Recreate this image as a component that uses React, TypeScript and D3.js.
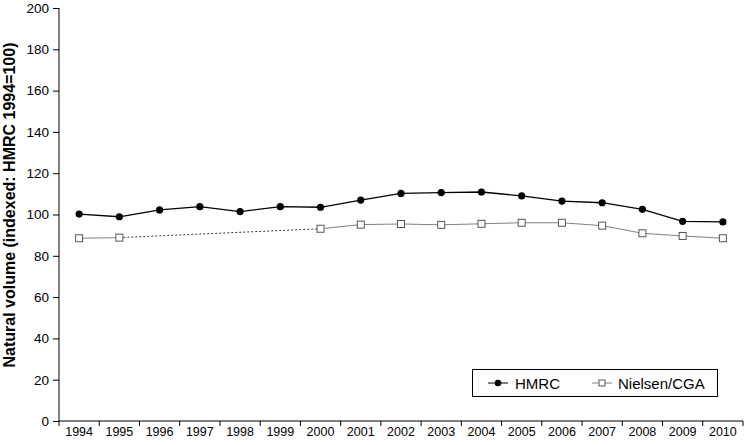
import React, { useEffect, useRef } from 'react'
import * as d3 from 'd3'

const years = ['1994', '1995', '1996', '1997', '1998', '1999', '2000', '2001', '2002',
  '2003', '2004', '2005', '2006', '2007', '2008', '2009', '2010']
const hmrc = [100.2, 98.9, 102.2, 103.8, 101.4, 103.8, 103.5, 107, 110.2, 110.6, 110.9, 109,
  106.5, 105.7, 102.5, 96.7, 96.4]
// no Nielsen/CGA figures for 1996-1999
const nielsen = [88.5, 88.8, null, null, null, null, 93.1, 95.1, 95.4, 95, 95.5, 96, 96,
  94.6, 90.9, 89.6, 88.5]
const yTicks = [0, 20, 40, 60, 80, 100, 120, 140, 160, 180, 200]

const App = () => {
  const ref = useRef<SVGSVGElement>(null)

  useEffect(() => {
    const svg = d3.select(ref.current)
    svg.selectAll('*').remove()
    const font = 'Liberation Sans, Arial, sans-serif'

    const x = d3.scaleBand().domain(years).range([59, 743])
    const y = d3.scaleLinear().domain([0, 200]).range([421, 8])
    const cx = (d: string) => x(d)! + x.bandwidth() / 2

    // y axis
    const ya = svg.append('g').attr('transform', 'translate(59,0)')
      .call(d3.axisLeft(y).tickValues(yTicks).tickSize(6).tickPadding(4))
    ya.select('.domain').attr('stroke', '#000').attr('d', 'M0,8V421')
    ya.selectAll('text').attr('font-family', font).attr('font-size', 13.5).attr('fill', '#000')

    // x axis, ticks on category boundaries
    const xa = svg.append('g').attr('transform', 'translate(0,421)')
    xa.append('line').attr('x1', 59).attr('x2', 743).attr('stroke', '#000')
    xa.selectAll('.tk').data(years.concat(['end'])).enter().append('line')
      .attr('x1', (d, i) => 59 + i * x.bandwidth())
      .attr('x2', (d, i) => 59 + i * x.bandwidth())
      .attr('y1', 0).attr('y2', 5).attr('stroke', '#000')
    xa.selectAll('text').data(years).enter().append('text')
      .attr('x', d => cx(d)).attr('y', 14.5)
      .attr('text-anchor', 'middle').attr('font-family', font).attr('font-size', 12.5)
      .text(d => d)

    svg.append('text')
      .attr('transform', 'translate(15,205) rotate(-90)')
      .attr('text-anchor', 'middle').attr('font-family', font)
      .attr('font-size', 16).attr('font-weight', 'bold')
      .text('Natural volume (indexed: HMRC 1994=100)')

    // Nielsen/CGA: solid where consecutive, dotted across the gap
    const nPts = years.map((d, i) => ({ d, v: nielsen[i] })).filter(p => p.v !== null) as { d: string, v: number }[]
    const line = d3.line<{ d: string, v: number }>().x(p => cx(p.d)).y(p => y(p.v))
    for (let i = 1; i < nPts.length; i++) {
      const a = nPts[i - 1]
      const b = nPts[i]
      const gap = years.indexOf(b.d) - years.indexOf(a.d) > 1
      svg.append('path').attr('d', line([a, b]))
        .attr('fill', 'none').attr('stroke', gap ? '#333' : '#808080')
        .attr('stroke-width', 1).attr('stroke-dasharray', gap ? '2,2' : null)
    }
    svg.selectAll('.nm').data(nPts).enter().append('rect')
      .attr('x', p => cx(p.d) - 3.5).attr('y', p => y(p.v) - 3.5)
      .attr('width', 7).attr('height', 7)
      .attr('fill', '#fff').attr('stroke', '#555')

    // HMRC
    const hPts = years.map((d, i) => ({ d, v: hmrc[i] }))
    svg.append('path').attr('d', line(hPts))
      .attr('fill', 'none').attr('stroke', '#000').attr('stroke-width', 1.3)
    svg.selectAll('.hm').data(hPts).enter().append('circle')
      .attr('cx', p => cx(p.d)).attr('cy', p => y(p.v)).attr('r', 3.6).attr('fill', '#000')

    // legend
    const lg = svg.append('g')
    lg.append('rect').attr('x', 472.5).attr('y', 369.5).attr('width', 245).attr('height', 27)
      .attr('fill', '#fff').attr('stroke', '#000')
    lg.append('line').attr('x1', 488).attr('x2', 508).attr('y1', 383).attr('y2', 383).attr('stroke', '#000')
    lg.append('circle').attr('cx', 498).attr('cy', 383).attr('r', 3.3).attr('fill', '#000')
    lg.append('text').attr('x', 515).attr('y', 388.5).attr('font-family', font).attr('font-size', 15).text('HMRC')
    lg.append('line').attr('x1', 592).attr('x2', 612).attr('y1', 383).attr('y2', 383).attr('stroke', '#808080')
    lg.append('rect').attr('x', 599).attr('y', 380).attr('width', 6).attr('height', 6)
      .attr('fill', '#fff').attr('stroke', '#555')
    lg.append('text').attr('x', 618).attr('y', 388.5).attr('font-family', font).attr('font-size', 15).text('Nielsen/CGA')
  }, [])

  return <svg ref={ref} width={750} height={445} style={{ position: 'absolute', left: 0, top: 0 }} />
}

export default App
